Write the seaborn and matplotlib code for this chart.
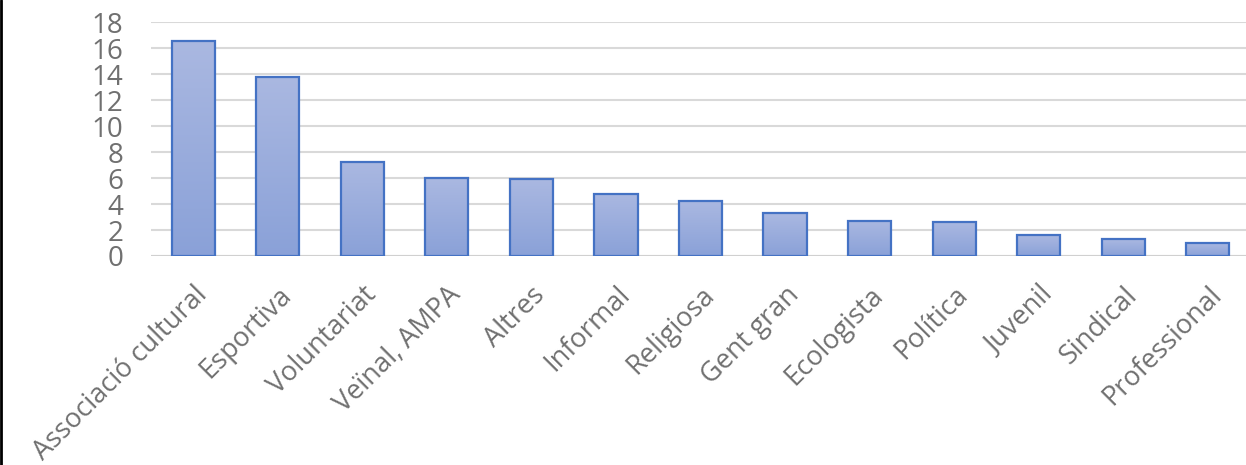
import numpy as np
import pandas as pd
import seaborn as sns
import matplotlib.pyplot as plt
from matplotlib.colors import LinearSegmentedColormap

categories = ['Associació cultural', 'Esportiva', 'Voluntariat', 'Veïnal, AMPA', 'Altres',
              'Informal', 'Religiosa', 'Gent gran', 'Ecologista', 'Política', 'Juvenil',
              'Sindical', 'Professional']
values = [16.5, 13.8, 7.2, 6.0, 5.9, 4.8, 4.2, 3.3, 2.7, 2.6, 1.6, 1.3, 1.0]

df = pd.DataFrame({'tipus': categories, 'pct': values})

sns.set_style('white')
plt.rcParams['font.family'] = ['Open Sans', 'DejaVu Sans']

fig = plt.figure(figsize=(12.46, 4.65), dpi=100)
ax = fig.add_axes([151 / 1246, 1 - 256 / 465, 1099 / 1246, 234 / 465])

sns.barplot(data=df, x='tipus', y='pct', color='#97AADC', width=0.51,
            edgecolor='#4472C4', linewidth=1.6, ax=ax, zorder=3)

# vertical gradient inside each bar
cmap = LinearSegmentedColormap.from_list('g', ['#8AA1D8', '#AAB8E1'])
grad = np.linspace(0, 1, 256).reshape(-1, 1)
for p in ax.patches:
    x0, y0 = p.get_x(), p.get_y()
    w, h = p.get_width(), p.get_height()
    im = ax.imshow(grad, cmap=cmap, origin='lower', aspect='auto',
                   extent=[x0, x0 + w, y0, y0 + h], zorder=2.5)
    im.set_clip_path(p)
    p.set_facecolor('none')

ax.set_xlim(-0.5, len(categories) - 0.5)
ax.set_ylim(0, 18)
ax.set_yticks(range(0, 19, 2))
ax.yaxis.grid(True, color='#D9D9D9', linewidth=1.5, zorder=0)
ax.set_axisbelow(True)
for s in ax.spines.values():
    s.set_visible(False)
ax.axhline(0, color='#D0D0D0', linewidth=1.5, zorder=1)

ax.set_xlabel('')
ax.set_ylabel('')
ax.tick_params(axis='y', length=0, pad=20, labelsize=20, labelcolor='#707070')
ax.tick_params(axis='x', length=0, pad=18, labelsize=19.5, labelcolor='#707070')
plt.setp(ax.get_xticklabels(), rotation=45, ha='right', rotation_mode='anchor')

# left frame line of the chart area
fig.add_artist(plt.Line2D([0.001, 0.001], [0, 1], color='black', linewidth=2,
                          transform=fig.transFigure))

fig.savefig('out.png', dpi=100)
